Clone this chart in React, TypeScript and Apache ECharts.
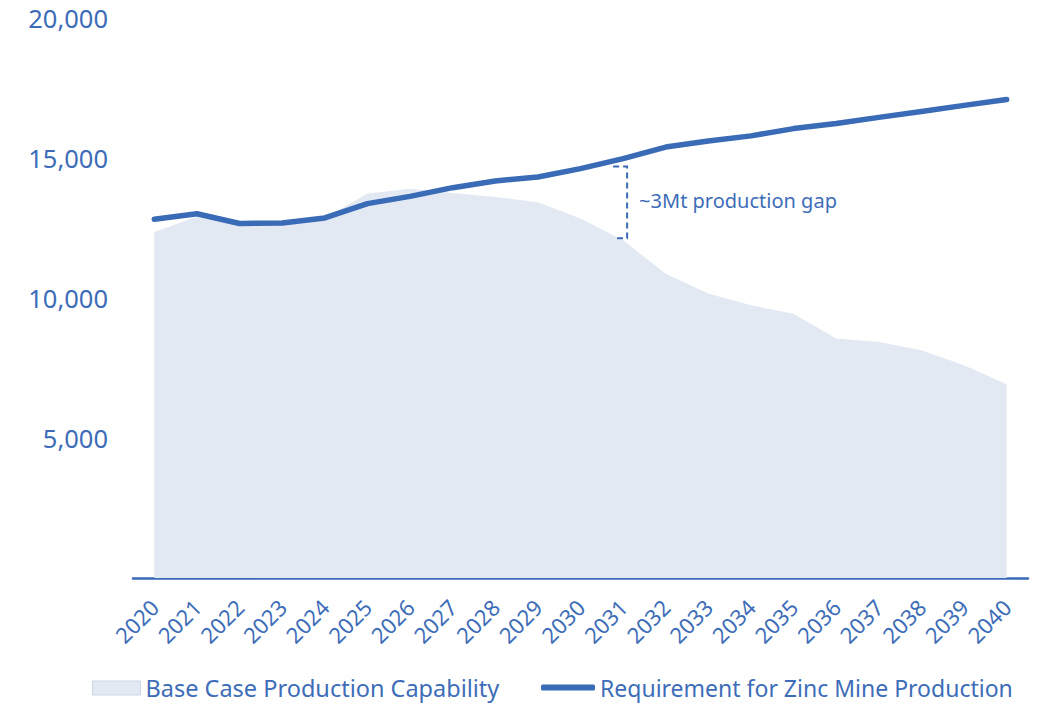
import { useEffect, useRef } from 'react';
import * as echarts from 'echarts';

const years = ['2020', '2021', '2022', '2023', '2024', '2025', '2026', '2027', '2028', '2029', '2030',
  '2031', '2032', '2033', '2034', '2035', '2036', '2037', '2038', '2039', '2040'];
const baseCase = [12360, 12900, 12620, 12650, 12850, 13730, 13900, 13750, 13610, 13420, 12840,
  12060, 10870, 10160, 9740, 9440, 8550, 8430, 8130, 7600, 6920];
const requirement = [12810, 13010, 12660, 12680, 12860, 13370, 13630, 13940, 14180, 14320, 14620,
  14980, 15390, 15610, 15790, 16050, 16230, 16450, 16660, 16880, 17090];
const yMin = 0;
const yMax = 20000;
const yStep = 5000;
const gapYear = '2031';
const gapTop = 14700;
const gapBottom = 12130;
const gapLabelValue = 13490;
const gapLabel = '~3Mt production gap';
const baseName = 'Base Case Production Capability';
const reqName = 'Requirement for Zinc Mine Production';

const BLUE = '#3a6bb6';
const TEXT = '#3d6db8';
const AREA = '#e3e9f3';
const FONT = 'Noto Sans';

export default function App() {
  const ref = useRef<HTMLDivElement>(null);
  useEffect(() => {
    document.body.style.margin = '0';
    const chart = echarts.init(ref.current!, undefined, { renderer: 'svg' });
    chart.setOption({
      animation: false,
      textStyle: { fontFamily: FONT },
      grid: { left: 133, right: 10, top: 18, bottom: 126, containLabel: false, outerBoundsMode: 'none' },
      xAxis: {
        type: 'category',
        data: years,
        boundaryGap: true,
        axisLine: { lineStyle: { color: BLUE, width: 2.5 } },
        axisTick: { show: false },
        axisLabel: { rotate: 45, color: TEXT, fontSize: 22, fontFamily: FONT, margin: 25, interval: 0 },
      },
      yAxis: {
        type: 'value',
        min: yMin,
        max: yMax,
        interval: yStep,
        axisLine: { show: false },
        axisTick: { show: false },
        splitLine: { show: false },
        axisLabel: {
          color: TEXT, fontSize: 25.5, fontFamily: FONT, margin: 25,
          formatter: (v: number) => (v === 0 ? '' : v.toLocaleString('en-US')),
        },
      },
      legend: [
        {
          data: [{ name: baseName, icon: 'rect', itemStyle: { color: AREA, borderColor: '#c9d4e6', borderWidth: 1 } }],
          left: 92, top: 676, padding: 0, itemWidth: 48, itemHeight: 14, itemGap: 0,
          textStyle: { color: TEXT, fontSize: 23.5, fontFamily: FONT },
        },
        {
          data: [{ name: reqName, icon: 'roundRect' }],
          left: 541, top: 676, padding: 0, itemWidth: 54, itemHeight: 6, itemGap: 0,
          textStyle: { color: TEXT, fontSize: 23, fontFamily: FONT },
        },
      ],
      series: [
        {
          name: baseName,
          type: 'line',
          data: baseCase,
          symbol: 'none',
          lineStyle: { width: 0, color: AREA },
          itemStyle: { color: AREA },
          areaStyle: { color: AREA, opacity: 1 },
          z: 1,
        },
        {
          name: reqName,
          type: 'line',
          data: requirement,
          symbol: 'none',
          lineStyle: { width: 5.5, color: BLUE, cap: 'round', join: 'round' },
          itemStyle: { color: BLUE },
          z: 3,
        },
      ],
    });
    const x = (chart.convertToPixel({ xAxisIndex: 0 }, gapYear) as number) + 4;
    const yT = chart.convertToPixel({ yAxisIndex: 0 }, gapTop) as number;
    const yB = chart.convertToPixel({ yAxisIndex: 0 }, gapBottom) as number;
    const yL = chart.convertToPixel({ yAxisIndex: 0 }, gapLabelValue) as number;
    chart.setOption({
      graphic: [
        {
          type: 'polyline',
          shape: { points: [[x - 14, yT], [x, yT], [x, yB], [x - 14, yB]] },
          style: { stroke: BLUE, lineWidth: 2, lineDash: [6, 4], fill: null },
          z: 10,
        },
        {
          type: 'text',
          x: x + 12,
          y: yL,
          style: { text: gapLabel, fill: TEXT, font: `20px "${FONT}"`, textVerticalAlign: 'middle', verticalAlign: 'middle' },
          z: 10,
        },
      ],
    });
    return () => chart.dispose();
  }, []);
  return <div ref={ref} style={{ width: 1038, height: 704 }} />;
}
